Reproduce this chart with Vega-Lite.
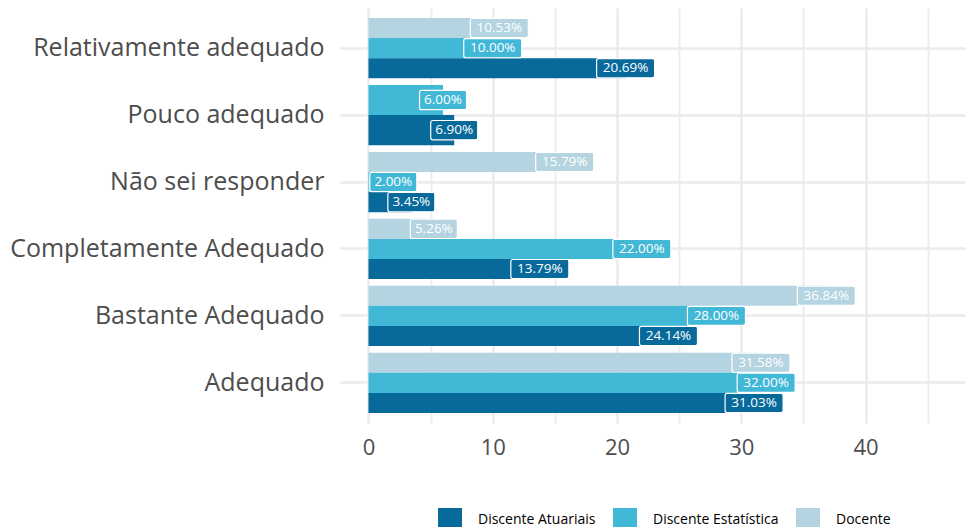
{
  "$schema": "https://vega.github.io/schema/vega-lite/v6.json",
  "autosize": {"type": "none"},
  "width": 625,
  "height": 415,
  "padding": {"left": 340, "top": 8, "right": 3, "bottom": 104},
  "background": "white",
  "config": {
    "font": "Open Sans",
    "view": {"stroke": null},
    "axis": {"domain": false, "ticks": false, "gridColor": "#ebebeb", "labelColor": "#4d4d4d", "labelFontSize": 25, "labelLimit": 0, "title": null}
  },
  "data": {"values": [
    {"cat": "Relativamente adequado", "serie": "Docente", "v": 10.53},
    {"cat": "Relativamente adequado", "serie": "Discente Estatística", "v": 10.00},
    {"cat": "Relativamente adequado", "serie": "Discente Atuariais", "v": 20.69},
    {"cat": "Pouco adequado", "serie": "Discente Estatística", "v": 6.00},
    {"cat": "Pouco adequado", "serie": "Discente Atuariais", "v": 6.90},
    {"cat": "Não sei responder", "serie": "Docente", "v": 15.79},
    {"cat": "Não sei responder", "serie": "Discente Estatística", "v": 2.00},
    {"cat": "Não sei responder", "serie": "Discente Atuariais", "v": 3.45},
    {"cat": "Completamente Adequado", "serie": "Docente", "v": 5.26},
    {"cat": "Completamente Adequado", "serie": "Discente Estatística", "v": 22.00},
    {"cat": "Completamente Adequado", "serie": "Discente Atuariais", "v": 13.79},
    {"cat": "Bastante Adequado", "serie": "Docente", "v": 36.84},
    {"cat": "Bastante Adequado", "serie": "Discente Estatística", "v": 28.00},
    {"cat": "Bastante Adequado", "serie": "Discente Atuariais", "v": 24.14},
    {"cat": "Adequado", "serie": "Docente", "v": 31.58},
    {"cat": "Adequado", "serie": "Discente Estatística", "v": 32.00},
    {"cat": "Adequado", "serie": "Discente Atuariais", "v": 31.03}
  ]},
  "transform": [{"calculate": "format(datum.v, '.2f') + '%'", "as": "label"}],
  "encoding": {
    "y": {"field": "cat", "type": "nominal",
      "scale": {"domain": ["Relativamente adequado", "Pouco adequado", "Não sei responder", "Completamente Adequado", "Bastante Adequado", "Adequado"], "paddingInner": 0.1, "paddingOuter": 0.15},
      "axis": {"grid": true, "gridWidth": 2.5, "labelPadding": 16}},
    "x": {"field": "v", "type": "quantitative",
      "scale": {"domain": [-2.29, 48.0], "nice": false, "zero": false},
      "axis": {"values": [0, 5, 10, 15, 20, 25, 30, 35, 40, 45], "labelExpr": "datum.value % 10 == 0 ? datum.label : ''", "grid": true, "gridWidth": {"condition": {"test": "datum.value % 10 == 0", "value": 2.5}, "value": 1.8}, "labelPadding": 14, "labelFontSize": 22}}
  },
  "layer": [
    {
      "transform": [{"filter": "datum.cat != 'Pouco adequado'"}],
      "mark": {"type": "bar"},
      "encoding": {
        "x2": {"datum": 0},
        "yOffset": {"field": "serie", "type": "nominal", "scale": {"type": "band", "domain": ["Docente", "Discente Estatística", "Discente Atuariais"], "paddingInner": 0, "paddingOuter": 0}},
        "color": {"field": "serie", "type": "nominal",
          "scale": {"domain": ["Discente Atuariais", "Discente Estatística", "Docente"], "range": ["#086a9b", "#42b8d7", "#b3d4e0"]},
          "legend": {"title": null, "orient": "none", "direction": "horizontal", "legendX": 98, "legendY": 500, "symbolType": "square", "symbolSize": 576, "symbolStrokeWidth": 0, "labelFontSize": 14, "labelColor": "#000000", "labelOffset": 16, "columnPadding": 17, "labelFont": "Open Sans"}}
      }
    },
    {
      "transform": [{"filter": "datum.cat == 'Pouco adequado'"}],
      "mark": {"type": "bar"},
      "encoding": {
        "x2": {"datum": 0},
        "yOffset": {"field": "serie", "type": "nominal", "scale": {"type": "band", "domain": ["Discente Estatística", "Discente Atuariais"], "paddingInner": 0, "paddingOuter": 0}},
        "color": {"field": "serie", "type": "nominal"}
      }
    },
    {
      "transform": [{"filter": "datum.cat != 'Pouco adequado'"}],
      "mark": {"type": "point", "filled": true, "opacity": 1, "stroke": "white", "strokeWidth": 1.2},
      "encoding": {
        "yOffset": {"field": "serie", "type": "nominal", "scale": {"type": "band", "domain": ["Docente", "Discente Estatística", "Discente Atuariais"], "paddingInner": 0, "paddingOuter": 0}},
        "color": {"field": "serie", "type": "nominal"},
        "shape": {"condition": {"test": "length(datum.label) > 5", "value": "M-0.93,-0.33L0.93,-0.33Q1,-0.33 1,-0.26L1,0.26Q1,0.33 0.93,0.33L-0.93,0.33Q-1,0.33 -1,0.26L-1,-0.26Q-1,-0.33 -0.93,-0.33Z"}, "value": "M-0.915,-0.41L0.915,-0.41Q1,-0.41 1,-0.325L1,0.325Q1,0.41 0.915,0.41L-0.915,0.41Q-1,0.41 -1,0.325L-1,-0.325Q-1,-0.41 -0.915,-0.41Z"},
        "size": {"condition": {"test": "length(datum.label) > 5", "value": 3364}, "value": 2209}
      }
    },
    {
      "transform": [{"filter": "datum.cat != 'Pouco adequado'"}],
      "mark": {"type": "text", "color": "white", "fontSize": 13.5, "align": "center", "baseline": "middle"},
      "encoding": {
        "yOffset": {"field": "serie", "type": "nominal", "scale": {"type": "band", "domain": ["Docente", "Discente Estatística", "Discente Atuariais"], "paddingInner": 0, "paddingOuter": 0}},
        "text": {"field": "label"}
      }
    },
    {
      "transform": [{"filter": "datum.cat == 'Pouco adequado'"}],
      "mark": {"type": "point", "filled": true, "opacity": 1, "stroke": "white", "strokeWidth": 1.2},
      "encoding": {
        "yOffset": {"field": "serie", "type": "nominal", "scale": {"type": "band", "domain": ["Discente Estatística", "Discente Atuariais"], "paddingInner": 0, "paddingOuter": 0}},
        "color": {"field": "serie", "type": "nominal"},
        "shape": {"value": "M-0.915,-0.41L0.915,-0.41Q1,-0.41 1,-0.325L1,0.325Q1,0.41 0.915,0.41L-0.915,0.41Q-1,0.41 -1,0.325L-1,-0.325Q-1,-0.41 -0.915,-0.41Z"},
        "size": {"value": 2209}
      }
    },
    {
      "transform": [{"filter": "datum.cat == 'Pouco adequado'"}],
      "mark": {"type": "text", "color": "white", "fontSize": 13.5, "align": "center", "baseline": "middle"},
      "encoding": {
        "yOffset": {"field": "serie", "type": "nominal", "scale": {"type": "band", "domain": ["Discente Estatística", "Discente Atuariais"], "paddingInner": 0, "paddingOuter": 0}},
        "text": {"field": "label"}
      }
    }
  ],
  "resolve": {"scale": {"yOffset": "independent"}}
}
